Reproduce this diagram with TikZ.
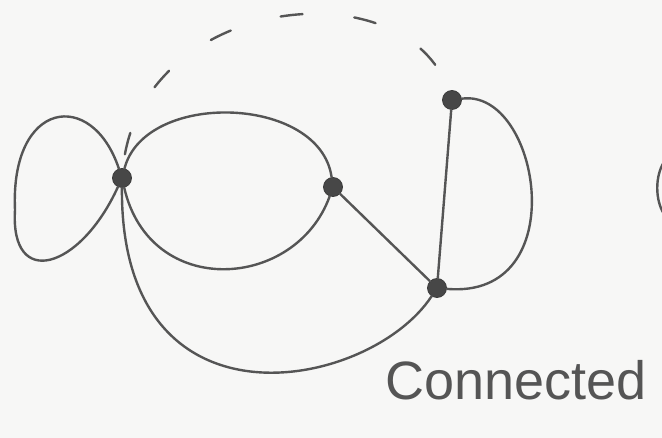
\documentclass[tikz,border=0pt]{standalone}
\usepackage{fontspec}
\setmainfont{Liberation Sans}
\definecolor{pen}{HTML}{555555}
\definecolor{paper}{HTML}{F7F7F6}
\definecolor{dot}{HTML}{474747}
\begin{document}
\begin{tikzpicture}[x=1pt,y=-1pt,
  edge/.style={draw=pen,line width=2.4pt,line cap=round,line join=round},
  vert/.style={circle,fill=dot,draw=pen!70!black,line width=0.8pt,minimum size=19pt,inner sep=0pt},
  dashedge/.style={edge,dash pattern=on 22pt off 52pt,dash phase=-14pt},
  lab/.style={text=pen,font=\fontsize{54}{54}\selectfont,inner sep=0pt}]
\fill[paper] (0,0) rectangle (662,438);
\useasboundingbox (0,0) rectangle (662,438);
% vertices
\node[vert] (A) at (122,178) {};
\node[vert] (B) at (333,187) {};
\node[vert] (C) at (452,100) {};
\node[vert] (D) at (437,288) {};
% loop at A
\draw[edge] (A) .. controls (92,88) and (10,100) .. (15,210)
               .. controls (10,290) and (80,270) .. (A);
% two edges A-B
\draw[edge] (A) .. controls (145,90) and (320,95) .. (B);
\draw[edge] (A) .. controls (150,300) and (296,290) .. (B);
% A-D lower arc
\draw[edge] (A) .. controls (120,440) and (370,390) .. (D);
% B-D
\draw[edge] (B) -- (D);
% C-D straight and arc
\draw[edge] (C) -- (D);
\draw[edge] (C) .. controls (540,88) and (575,300) .. (D);
% dashed A-C
\draw[dashedge] (A) .. controls (140,-5) and (405,-35) .. (C);
% partial curve at right edge
\coordinate (R1) at (664,162);
\coordinate (R2) at (664,214);
\draw[edge] (R1) .. controls (655,176) and (655,200) .. (R2);
% label
\node[lab] (L) at (516,380) {Connected};
\end{tikzpicture}
\end{document}
